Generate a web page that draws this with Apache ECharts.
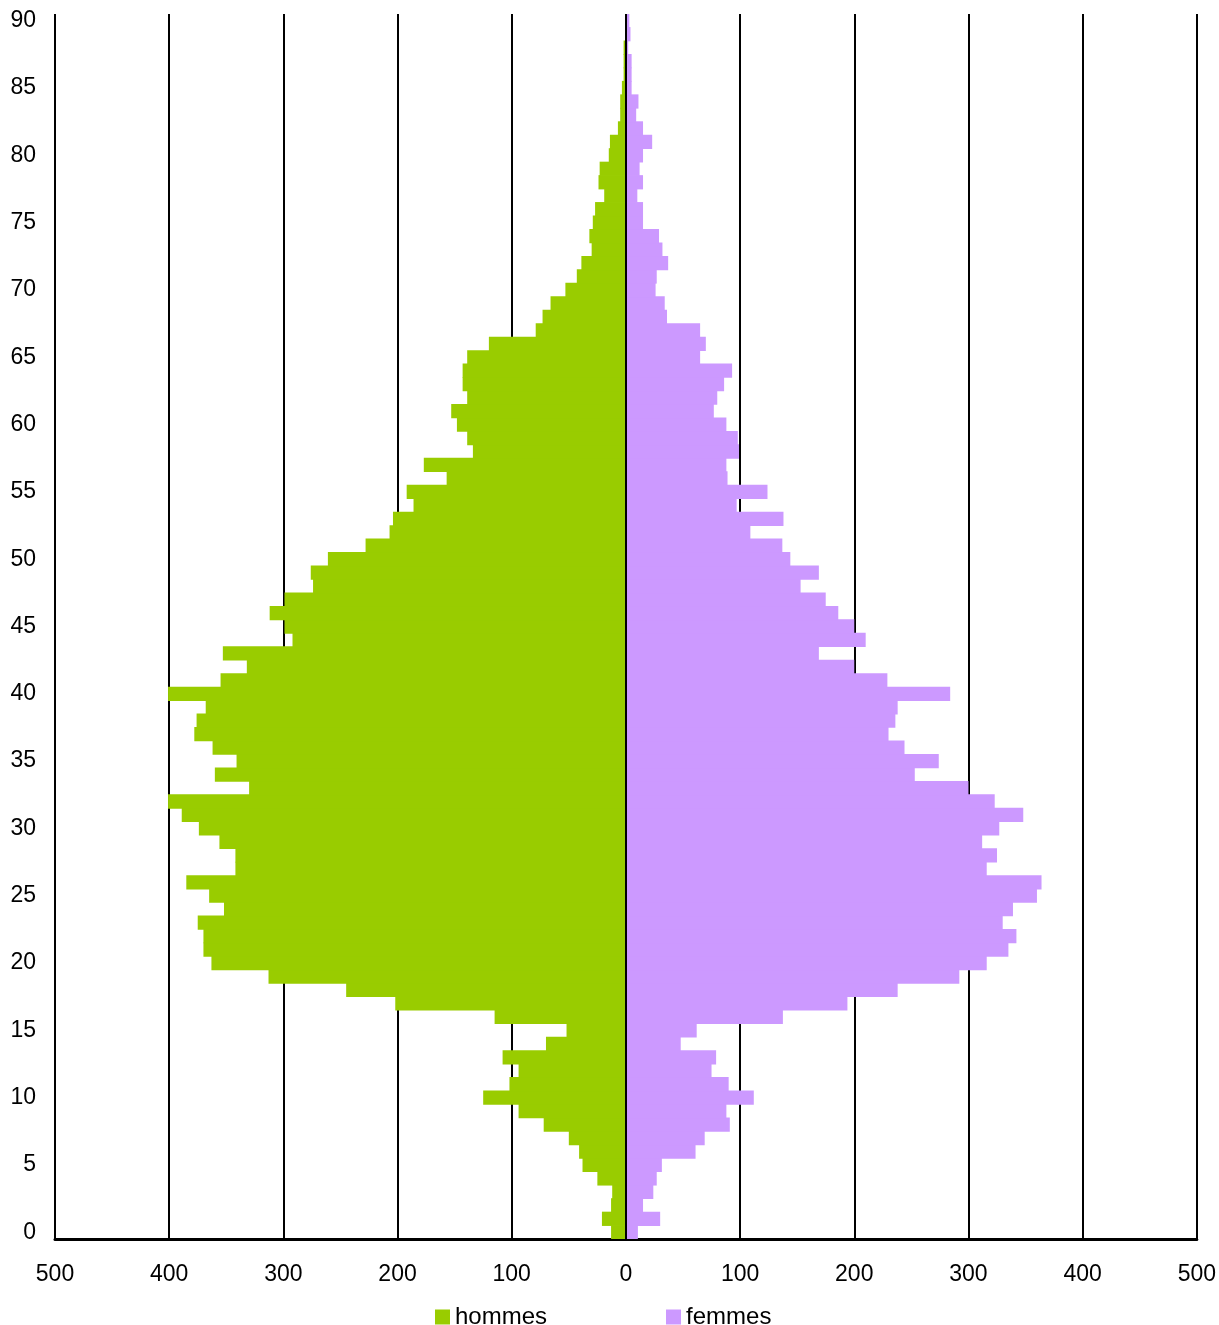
<!DOCTYPE html>
<html>
<head>
<meta charset="utf-8">
<script src="https://cdn.jsdelivr.net/npm/echarts@6/dist/echarts.min.js"></script>
<style>
html,body{margin:0;padding:0;background:#fff;}
#chart{width:1219px;height:1325px;}
</style>
</head>
<body>
<div id="chart"></div>
<script>
// Ages 0..90
const ages = [];
for (let a = 0; a <= 90; a++) ages.push(String(a));

// hommes, age 0 -> 90
const hommes = [13,21,13,12,25,38,41,50,72,94,
  125,102,94,108,70,52,115,202,245,313,
  363,370,370,375,352,365,385,342,342,356,
  374,389,401,330,360,341,362,378,376,368,
  401,355,332,353,292,299,312,299,274,276,
  261,228,207,204,186,192,157,177,134,139,
  148,153,139,143,143,139,120,79,73,66,
  53,43,39,30,32,29,27,19,24,23,
  15,14,7,5,5,3.5,2,2,2,0,0];

// femmes, age 0 -> 90
const femmes = [10.5,30,15,24,27,31.5,61,69,91,88,
  112,90,75,79,48,62,137.5,194,238,292,
  316,335,342,330,339,360,364,316,325,312,
  327,348,323,300,253,274,244,230,236,238,
  284,229,200,169,210,200,186,175,153,169,
  144,137,109,138,97,124,89,88,99,98,
  88,77,80,86,93,65,70,65,36,34,
  26,27,37,32,29,15,15,10,15,12,
  15,23,15,9,11,5,5,5,2,4,3];

const xTicks = [-500,-400,-300,-200,-100,0,100,200,300,400,500];

const chart = echarts.init(document.getElementById('chart'), null, {renderer:'canvas'});
const font = '"Liberation Sans", Arial, sans-serif';
const green = '#99CC00', purple = '#CC99FF';
chart.setOption({
  animation: false,
  backgroundColor: '#ffffff',
  textStyle: {fontFamily: font},
  grid: {left: 55, right: 22, top: 14, bottom: 86, containLabel: false},
  legend: {
    data: ['hommes','femmes'],
    left: 435, top: 1305, padding: 0,
    itemWidth: 15, itemHeight: 15, itemGap: 119,
    icon: 'rect',
    textStyle: {fontSize: 24, color: '#000', fontFamily: font}
  },
  xAxis: {
    type: 'value', min: xTicks[0], max: xTicks[xTicks.length-1], interval: 100,
    axisLine: {show: true, onZero: false, lineStyle: {color: '#000', width: 3}},
    axisTick: {show: false},
    axisLabel: {fontSize: 23, color: '#000', margin: 24, fontFamily: font,
      formatter: v => String(Math.abs(v))},
    splitLine: {show: true, lineStyle: {color: '#000', width: 2}}
  },
  yAxis: {
    type: 'category', data: ages, boundaryGap: true,
    axisLine: {show: false}, axisTick: {show: false},
    axisLabel: {interval: 4, fontSize: 23, color: '#000', margin: 19, fontFamily: font},
    splitLine: {show: false}
  },
  series: [
    {
      name: 'hommes', type: 'bar', stack: 'p',
      data: hommes.map(v => -v),
      barWidth: '106%',
      itemStyle: {color: green}
    },
    {
      name: 'femmes', type: 'bar', stack: 'p',
      data: femmes,
      barWidth: '106%',
      itemStyle: {color: purple},
      markLine: {
        silent: true, symbol: 'none', animation: false,
        label: {show: false},
        lineStyle: {color: '#000', width: 2, type: 'solid'},
        data: [{xAxis: 0}]
      }
    }
  ]
});
</script>
</body>
</html>
